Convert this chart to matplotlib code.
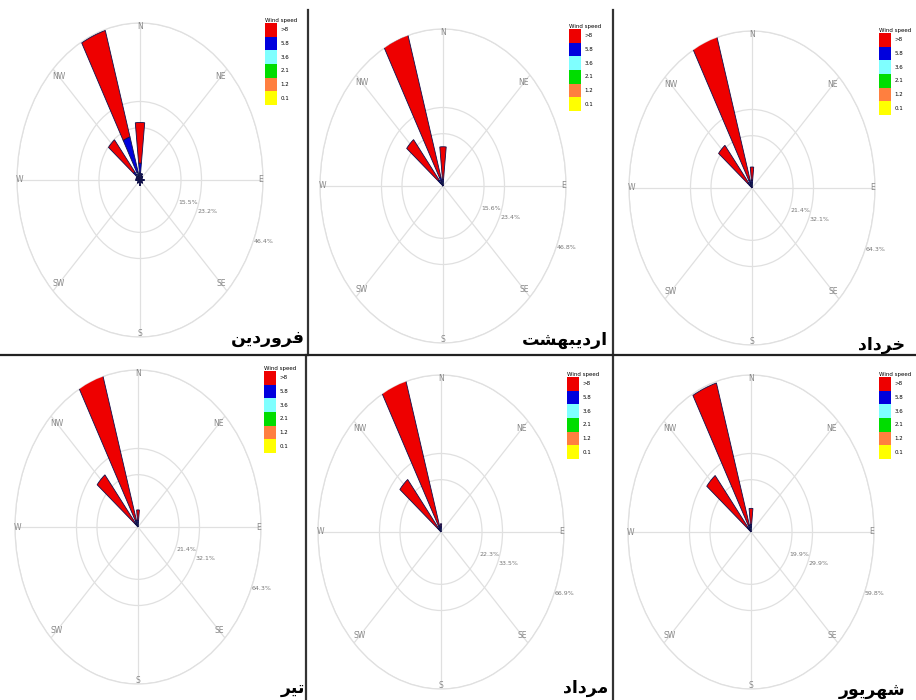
import numpy as np
import matplotlib
matplotlib.use('Agg')
import matplotlib.pyplot as plt
from matplotlib.patches import Patch
from matplotlib.lines import Line2D

# 16 direction bins, clockwise from north
directions = ['N', 'NNE', 'NE', 'ENE', 'E', 'ESE', 'SE', 'SSE',
              'S', 'SSW', 'SW', 'WSW', 'W', 'WNW', 'NW', 'NNW']
# speed classes, lowest first (stacking order)
speed_labels = ['0.1', '1.2', '2.1', '3.6', '5.8', '>8']
speed_colors = ['#ffff00', '#ff7f3f', '#00dd00', '#7fffff', '#0000dd', '#ee0000']

months = ['فروردین', 'اردیبهشت', 'خرداد', 'تیر', 'مرداد', 'شهریور']
ring_max = [46.4, 46.8, 64.3, 64.3, 66.9, 59.8]

# frequency (%) per speed class (rows) and direction (columns)
farvardin = [
    [0.6, 0.6, 0.5, 0.4, 0.6, 0.4, 0.5, 0.4, 0.6, 0.4, 0.5, 0.4, 0.6, 0.5, 0.6, 0.6],
    [0.6, 0.7, 0.5, 0.3, 0.5, 0.3, 0.4, 0.3, 0.6, 0.3, 0.4, 0.3, 0.5, 0.5, 0.6, 0.6],
    [0.4, 0.4, 0.2, 0.1, 0.3, 0.1, 0.2, 0.1, 0.3, 0.1, 0.2, 0.1, 0.3, 0.3, 0.5, 0.6],
    [0.4, 0.2, 0.1, 0.0, 0.1, 0.0, 0.1, 0.0, 0.1, 0.0, 0.1, 0.0, 0.1, 0.2, 0.5, 0.7],
    [3.0, 0.0, 0.0, 0.0, 0.0, 0.0, 0.0, 0.0, 0.0, 0.0, 0.0, 0.0, 0.0, 0.0, 0.9, 10.8],
    [12.0, 0.0, 0.0, 0.0, 0.0, 0.0, 0.0, 0.0, 0.0, 0.0, 0.0, 0.0, 0.0, 0.0, 12.2, 32.8],
]
ordibehesht = [
    [0.3, 0.2, 0.0, 0.0, 0.0, 0.0, 0.0, 0.0, 0.0, 0.0, 0.0, 0.0, 0.0, 0.2, 0.3, 0.3],
    [0.4, 0.0, 0.0, 0.0, 0.0, 0.0, 0.0, 0.0, 0.0, 0.0, 0.0, 0.0, 0.0, 0.0, 0.4, 0.5],
    [0.3, 0.0, 0.0, 0.0, 0.0, 0.0, 0.0, 0.0, 0.0, 0.0, 0.0, 0.0, 0.0, 0.0, 0.4, 0.5],
    [0.3, 0.0, 0.0, 0.0, 0.0, 0.0, 0.0, 0.0, 0.0, 0.0, 0.0, 0.0, 0.0, 0.0, 0.4, 0.5],
    [0.6, 0.0, 0.0, 0.0, 0.0, 0.0, 0.0, 0.0, 0.0, 0.0, 0.0, 0.0, 0.0, 0.0, 0.8, 1.0],
    [9.8, 0.0, 0.0, 0.0, 0.0, 0.0, 0.0, 0.0, 0.0, 0.0, 0.0, 0.0, 0.0, 0.0, 15.5, 44.2],
]
khordad = [
    [0.4, 0.0, 0.0, 0.0, 0.0, 0.0, 0.0, 0.0, 0.0, 0.0, 0.0, 0.0, 0.0, 0.0, 0.4, 0.4],
    [0.6, 0.0, 0.0, 0.0, 0.0, 0.0, 0.0, 0.0, 0.0, 0.0, 0.0, 0.0, 0.0, 0.0, 0.5, 0.6],
    [0.6, 0.0, 0.0, 0.0, 0.0, 0.0, 0.0, 0.0, 0.0, 0.0, 0.0, 0.0, 0.0, 0.0, 0.5, 0.6],
    [0.6, 0.0, 0.0, 0.0, 0.0, 0.0, 0.0, 0.0, 0.0, 0.0, 0.0, 0.0, 0.0, 0.0, 0.5, 0.6],
    [1.0, 0.0, 0.0, 0.0, 0.0, 0.0, 0.0, 0.0, 0.0, 0.0, 0.0, 0.0, 0.0, 0.0, 1.0, 1.2],
    [5.4, 0.0, 0.0, 0.0, 0.0, 0.0, 0.0, 0.0, 0.0, 0.0, 0.0, 0.0, 0.0, 0.0, 19.6, 61.6],
]
tir = [
    [0.4, 0.0, 0.0, 0.0, 0.0, 0.0, 0.0, 0.0, 0.0, 0.0, 0.0, 0.0, 0.0, 0.0, 0.3, 0.3],
    [0.5, 0.0, 0.0, 0.0, 0.0, 0.0, 0.0, 0.0, 0.0, 0.0, 0.0, 0.0, 0.0, 0.0, 0.4, 0.5],
    [0.5, 0.0, 0.0, 0.0, 0.0, 0.0, 0.0, 0.0, 0.0, 0.0, 0.0, 0.0, 0.0, 0.0, 0.4, 0.5],
    [0.5, 0.0, 0.0, 0.0, 0.0, 0.0, 0.0, 0.0, 0.0, 0.0, 0.0, 0.0, 0.0, 0.0, 0.4, 0.5],
    [0.8, 0.0, 0.0, 0.0, 0.0, 0.0, 0.0, 0.0, 0.0, 0.0, 0.0, 0.0, 0.0, 0.0, 0.8, 1.0],
    [4.3, 0.0, 0.0, 0.0, 0.0, 0.0, 0.0, 0.0, 0.0, 0.0, 0.0, 0.0, 0.0, 0.0, 25.2, 62.7],
]
mordad = [
    [0.3, 0.0, 0.0, 0.0, 0.0, 0.0, 0.0, 0.0, 0.0, 0.0, 0.0, 0.0, 0.0, 0.0, 0.3, 0.3],
    [0.4, 0.0, 0.0, 0.0, 0.0, 0.0, 0.0, 0.0, 0.0, 0.0, 0.0, 0.0, 0.0, 0.0, 0.4, 0.5],
    [0.4, 0.0, 0.0, 0.0, 0.0, 0.0, 0.0, 0.0, 0.0, 0.0, 0.0, 0.0, 0.0, 0.0, 0.4, 0.5],
    [0.4, 0.0, 0.0, 0.0, 0.0, 0.0, 0.0, 0.0, 0.0, 0.0, 0.0, 0.0, 0.0, 0.0, 0.4, 0.5],
    [0.6, 0.0, 0.0, 0.0, 0.0, 0.0, 0.0, 0.0, 0.0, 0.0, 0.0, 0.0, 0.0, 0.0, 0.8, 1.0],
    [1.4, 0.0, 0.0, 0.0, 0.0, 0.0, 0.0, 0.0, 0.0, 0.0, 0.0, 0.0, 0.0, 0.0, 26.5, 64.7],
]
shahrivar = [
    [0.4, 0.0, 0.0, 0.0, 0.0, 0.0, 0.0, 0.0, 0.0, 0.0, 0.0, 0.0, 0.0, 0.0, 0.3, 0.3],
    [0.5, 0.0, 0.0, 0.0, 0.0, 0.0, 0.0, 0.0, 0.0, 0.0, 0.0, 0.0, 0.0, 0.0, 0.4, 0.5],
    [0.5, 0.0, 0.0, 0.0, 0.0, 0.0, 0.0, 0.0, 0.0, 0.0, 0.0, 0.0, 0.0, 0.0, 0.4, 0.5],
    [0.5, 0.0, 0.0, 0.0, 0.0, 0.0, 0.0, 0.0, 0.0, 0.0, 0.0, 0.0, 0.0, 0.0, 0.4, 0.5],
    [0.9, 0.0, 0.0, 0.0, 0.0, 0.0, 0.0, 0.0, 0.0, 0.0, 0.0, 0.0, 0.0, 0.0, 0.8, 1.0],
    [6.2, 0.0, 0.0, 0.0, 0.0, 0.0, 0.0, 0.0, 0.0, 0.0, 0.0, 0.0, 0.0, 0.0, 25.4, 56.4],
]
month_data = [farvardin, ordibehesht, khordad, tir, mordad, shahrivar]

# persian letters -> (isolated, final, initial, medial); matplotlib does no shaping
FORMS = {
    'ا': ('\uFE8D', '\uFE8E', None, None),
    'ب': ('\uFE8F', '\uFE90', '\uFE91', '\uFE92'),
    'ت': ('\uFE95', '\uFE96', '\uFE97', '\uFE98'),
    'خ': ('\uFEA5', '\uFEA6', '\uFEA7', '\uFEA8'),
    'د': ('\uFEA9', '\uFEAA', None, None),
    'ر': ('\uFEAD', '\uFEAE', None, None),
    'ش': ('\uFEB5', '\uFEB6', '\uFEB7', '\uFEB8'),
    'ف': ('\uFED1', '\uFED2', '\uFED3', '\uFED4'),
    'م': ('\uFEE1', '\uFEE2', '\uFEE3', '\uFEE4'),
    'ن': ('\uFEE5', '\uFEE6', '\uFEE7', '\uFEE8'),
    'ه': ('\uFEE9', '\uFEEA', '\uFEEB', '\uFEEC'),
    'و': ('\uFEED', '\uFEEE', None, None),
    '\u06cc': ('\uFBFC', '\uFBFD', '\uFEF3', '\uFEF4'),
}


def shape(word):
    word = word.replace('\u064a', '\u06cc')
    out = []
    for i, ch in enumerate(word):
        f = FORMS[ch]
        joins_prev = i > 0 and FORMS[word[i - 1]][2] is not None
        joins_next = i < len(word) - 1 and f[2] is not None
        if joins_prev and joins_next:
            out.append(f[3])
        elif joins_prev:
            out.append(f[1])
        elif joins_next:
            out.append(f[2])
        else:
            out.append(f[0])
    return ''.join(reversed(out))


W, H = 916, 700
fig = plt.figure(figsize=(W / 100, H / 100), dpi=100)

centers = [(140, 180), (443, 186), (752, 188), (138, 527), (441, 532), (751, 532)]
legend_pos = [(265, 18), (569, 24), (879, 28), (264, 366), (567, 372), (879, 372)]
title_pos = [(305, 338), (608, 340), (905, 345), (305, 688), (608, 688), (905, 690)]
rx, ry = 123, 157

theta = np.deg2rad(np.arange(16) * 22.5)
width = np.deg2rad(12)
compass = ['N', 'NE', 'E', 'SE', 'S', 'SW', 'W', 'NW']

for k in range(6):
    cx, cy = centers[k]
    ax = fig.add_axes([(cx - rx) / W, 1 - (cy + ry) / H, 2 * rx / W, 2 * ry / H],
                      projection='polar')
    ax.set_aspect('auto')
    ax.set_theta_zero_location('N')
    ax.set_theta_direction(-1)
    rmax = ring_max[k]
    ax.set_ylim(0, rmax)

    data = np.array(month_data[k])
    bottom = np.zeros(16)
    for row, col in zip(data, speed_colors):
        ax.bar(theta, row, width=width, bottom=bottom, color=col,
               edgecolor='#10104a', linewidth=0.6, zorder=3)
        bottom += row

    rings = [rmax / 3, rmax / 2, rmax]
    ax.set_rgrids(rings, labels=['', '', ''])
    ax.set_thetagrids(range(0, 360, 45), labels=[''] * 8)
    ax.grid(color='#e0e0e0', linewidth=0.9)
    ax.spines['polar'].set_color('#e0e0e0')
    ax.spines['polar'].set_linewidth(0.9)

    for v in rings:
        ax.text(np.deg2rad(112), v, f'{v:.1f}%', fontsize=4.5, color='#777777',
                ha='left', va='top')
    for i, lab in enumerate(compass):
        r = 0.98 if i % 2 == 0 else 0.93
        ax.text(np.deg2rad(i * 45), rmax * r, lab, fontsize=5.5, color='#888888',
                ha='center', va='center')

    handles = [Patch(facecolor=c, edgecolor='none') for c in speed_colors[::-1]]
    lx, ly = legend_pos[k]
    fig.legend(handles, speed_labels[::-1], loc='upper left',
               bbox_to_anchor=(lx / W, 1 - ly / H), frameon=False,
               fontsize=4, title='Wind speed', title_fontsize=4,
               handlelength=2.2, handleheight=3.4, labelspacing=0,
               handletextpad=0.6, borderpad=0, borderaxespad=0,
               alignment='left')

    tx, ty = title_pos[k]
    fig.text(tx / W, 1 - ty / H, shape(months[k]), fontsize=12.5, fontweight='bold',
             family='DejaVu Sans', ha='right', va='center')

# panel separators
for x0, y0, y1 in [(308, 10, 355), (613, 10, 355), (306, 355, 700), (613, 355, 700)]:
    fig.add_artist(Line2D([x0 / W, x0 / W], [1 - y0 / H, 1 - y1 / H],
                          color='#333333', linewidth=1.6))
fig.add_artist(Line2D([0, 1], [1 - 355 / H, 1 - 355 / H], color='#222222', linewidth=1.6))

fig.savefig('out.png', dpi=100, facecolor='white')
